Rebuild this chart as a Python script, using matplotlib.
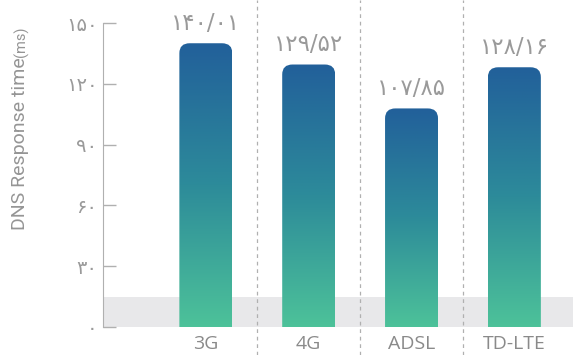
import numpy as np
import matplotlib.pyplot as plt
from matplotlib.patches import FancyBboxPatch
from matplotlib.colors import LinearSegmentedColormap

# data
networks = ['3G', '4G', 'ADSL', 'TD-LTE']
response_ms = [140.01, 129.52, 107.85, 128.16]
value_labels = ['۱۴۰/۰۱', '۱۲۹/۵۲', '۱۰۷/۸۵', '۱۲۸/۱۶']
y_ticks = [0, 30, 60, 90, 120, 150]
y_tick_labels = ['۰', '۳۰', '۶۰', '۹۰', '۱۲۰', '۱۵۰']
band_top = 15

fig = plt.figure(figsize=(5.73, 3.55), dpi=100)
ax = fig.add_axes([103 / 573, 28 / 355, 470 / 573, 327 / 355])

# light gray band at the bottom
ax.axhspan(0, band_top, color='#e8e8ea', zorder=0, lw=0)

# gradient bars with rounded tops
cmap = LinearSegmentedColormap.from_list('bar', ['#4dc299', '#2d8b9a', '#22609a'])
grad = np.linspace(0, 1, 256).reshape(-1, 1)
width = 0.515
for i, v in enumerate(response_ms):
    patch = FancyBboxPatch((i - width / 2, -10), width, v + 10,
                           boxstyle='round,pad=0,rounding_size=0.1',
                           mutation_aspect=49, lw=0, facecolor='none')
    ax.add_patch(patch)
    im = ax.imshow(grad, cmap=cmap, origin='lower', aspect='auto',
                   extent=(i - width / 2, i + width / 2, 0, v), zorder=2)
    im.set_clip_path(patch)
    ax.annotate(value_labels[i], (i, v), xytext=(0, 6), textcoords='offset points',
                ha='center', va='bottom', fontsize=16.5, color='#9a9a9a',
                family='DejaVu Sans')

# dashed separators between categories
for x in [0.5, 1.5, 2.5]:
    ax.plot([x, x], [-28 / 327, 1], transform=ax.get_xaxis_transform(),
            clip_on=False, color='#b0b0b0', lw=0.9, ls=(0, (3, 3)), zorder=1)

ax.set_xlim(-1.0, 3.57)
ax.set_ylim(0, 150 * 327 / 304)

for s in ['top', 'right', 'bottom']:
    ax.spines[s].set_visible(False)
ax.spines['left'].set_color('#b0b0b0')
ax.spines['left'].set_bounds(0, 150)

ax.set_yticks(y_ticks, y_tick_labels)
ax.tick_params(axis='y', direction='in', length=9, width=1, color='#b0b0b0',
               labelcolor='#9a9a9a', labelsize=14, pad=4)
for t in ax.get_yticklabels():
    t.set_family('DejaVu Sans')

ax.set_xticks(range(len(networks)), networks)
ax.tick_params(axis='x', length=0, pad=6, labelsize=14, labelcolor='#8a8a8a')
for t in ax.get_xticklabels():
    t.set_family('Open Sans')

# y label with smaller unit
lab = fig.text(20 / 573, (355 - 230) / 355, 'DNS Response time', rotation=90,
               ha='center', va='bottom', fontsize=14, color='#959595',
               family='Roboto')
ax.annotate('(ms)', xy=(1.0, 1.0), xycoords=lab, rotation=90, ha='right',
            va='bottom', fontsize=10.5, color='#959595', family='Roboto',
            annotation_clip=False)

plt.savefig('out.png', dpi=100)
